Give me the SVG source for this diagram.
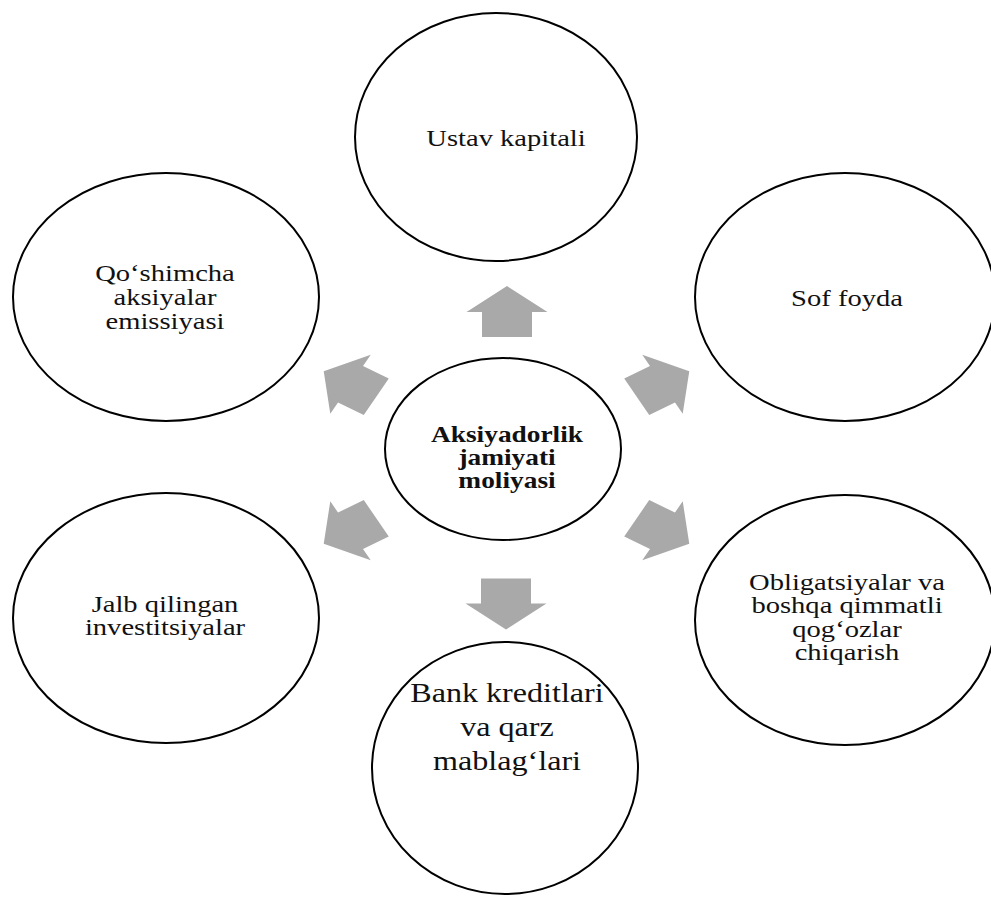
<svg xmlns="http://www.w3.org/2000/svg" width="991" height="900" viewBox="0 0 991 900">
<defs>
<style>
.node{fill:#fff;stroke:#000;stroke-width:2}
.t{font-family:"Liberation Serif","Times New Roman",serif;font-size:22.5px;fill:#111;text-anchor:middle}
.tb{font-family:"Liberation Serif","Times New Roman",serif;font-size:23px;font-weight:bold;fill:#111;text-anchor:middle}
.arr{fill:#a9a9a9}
</style>
<polygon id="arrow" points="0,-25.5 34,0.5 21,0.5 21,25.5 -21,25.5 -21,0.5 -34,0.5"/>
</defs>
<rect width="991" height="900" fill="#fff"/>
<g id="connectors" class="arr">
<use href="#arrow" transform="translate(507,311.5) scale(1.19,1) rotate(0)"/>
<use href="#arrow" transform="translate(663,384) scale(1.19,1) rotate(60)"/>
<use href="#arrow" transform="translate(663,531) scale(1.19,1) rotate(120)"/>
<use href="#arrow" transform="translate(506,604) scale(1.19,1) rotate(180)"/>
<use href="#arrow" transform="translate(350,531) scale(1.19,1) rotate(240)"/>
<use href="#arrow" transform="translate(350,384) scale(1.19,1) rotate(300)"/>
</g>
<g id="ustav">
<ellipse class="node" cx="496" cy="137" rx="141" ry="124"/>
<g transform="translate(506,0) scale(1.27,1)"><text class="t" x="0" y="146">Ustav kapitali</text></g>
</g>
<g id="sof">
<ellipse class="node" cx="845" cy="297" rx="150" ry="124"/>
<g transform="translate(847,0) scale(1.27,1)"><text class="t" x="0" y="306">Sof foyda</text></g>
</g>
<g id="obligatsiyalar">
<ellipse class="node" cx="845" cy="620" rx="150" ry="125"/>
<g transform="translate(847,0) scale(1.27,1)"><text class="t" x="0" y="590">Obligatsiyalar  va</text><text class="t" x="0" y="613">boshqa qimmatli</text><text class="t" x="0" y="637">qog‘ozlar</text><text class="t" x="0" y="660">chiqarish</text></g>
</g>
<g id="bank">
<ellipse class="node" cx="505" cy="768" rx="133" ry="126"/>
<g transform="translate(507,0) scale(1.19,1)"><text class="t" style="font-size:27px" x="0" y="702">Bank kreditlari</text><text class="t" style="font-size:27px" x="0" y="736">va qarz</text><text class="t" style="font-size:27px" x="0" y="770">mablag‘lari</text></g>
</g>
<g id="jalb">
<ellipse class="node" cx="166" cy="618" rx="153" ry="125"/>
<g transform="translate(165,0) scale(1.27,1)"><text class="t" x="0" y="612">Jalb qilingan</text><text class="t" x="0" y="635">investitsiyalar</text></g>
</g>
<g id="qoshimcha">
<ellipse class="node" cx="166" cy="297" rx="153" ry="124"/>
<g transform="translate(165,0) scale(1.27,1)"><text class="t" x="0" y="281">Qo‘shimcha</text><text class="t" x="0" y="305">aksiyalar</text><text class="t" x="0" y="329">emissiyasi</text></g>
</g>
<g id="center">
<ellipse class="node" cx="503" cy="449" rx="118" ry="91"/>
<g transform="translate(507,0) scale(1.19,1)"><text class="tb" x="0" y="442">Aksiyadorlik</text><text class="tb" x="0" y="465">jamiyati</text><text class="tb" x="0" y="488">moliyasi</text></g>
</g>
</svg>
